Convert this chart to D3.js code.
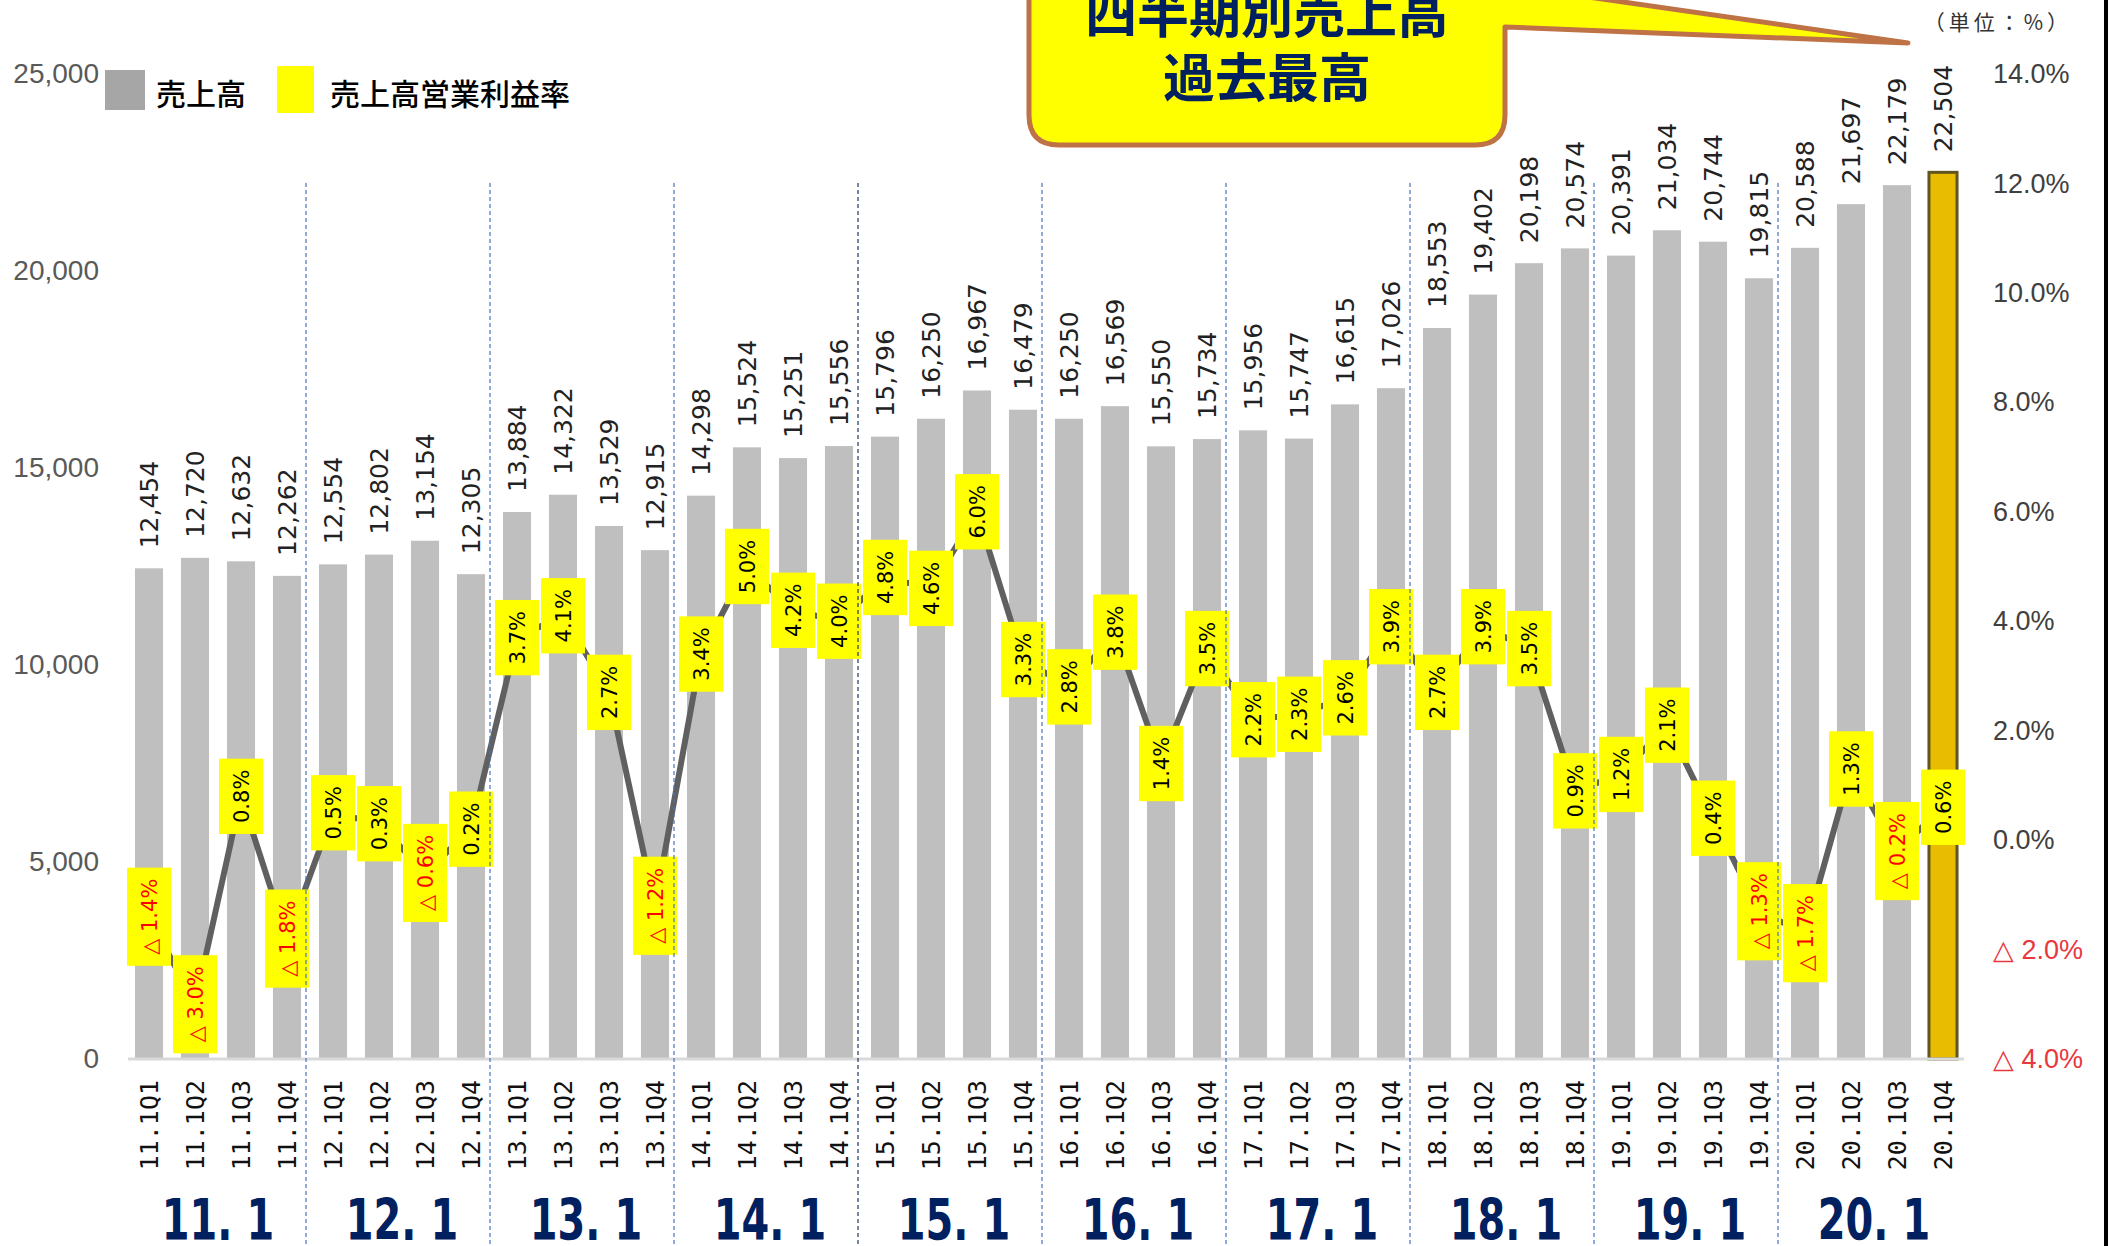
<!DOCTYPE html>
<html>
<head>
<meta charset="utf-8">
<script src="https://cdn.jsdelivr.net/npm/d3@7"></script>
<style>
  body { margin: 0; background: #fff; }
  svg { display: block; }
</style>
</head>
<body>
<svg id="chart"></svg>
<script>
// quarters, 2011 to 2020
const categories = [
  '11.1Q1', '11.1Q2', '11.1Q3', '11.1Q4', '12.1Q1', '12.1Q2', '12.1Q3', '12.1Q4',
  '13.1Q1', '13.1Q2', '13.1Q3', '13.1Q4', '14.1Q1', '14.1Q2', '14.1Q3', '14.1Q4',
  '15.1Q1', '15.1Q2', '15.1Q3', '15.1Q4', '16.1Q1', '16.1Q2', '16.1Q3', '16.1Q4',
  '17.1Q1', '17.1Q2', '17.1Q3', '17.1Q4', '18.1Q1', '18.1Q2', '18.1Q3', '18.1Q4',
  '19.1Q1', '19.1Q2', '19.1Q3', '19.1Q4', '20.1Q1', '20.1Q2', '20.1Q3', '20.1Q4',
];
// 売上高
const sales = [
  12454, 12720, 12632, 12262, 12554, 12802, 13154, 12305,
  13884, 14322, 13529, 12915, 14298, 15524, 15251, 15556,
  15796, 16250, 16967, 16479, 16250, 16569, 15550, 15734,
  15956, 15747, 16615, 17026, 18553, 19402, 20198, 20574,
  20391, 21034, 20744, 19815, 20588, 21697, 22179, 22504,
];
// 売上高営業利益率 (%)
const margins = [
  -1.4, -3.0, 0.8, -1.8, 0.5, 0.3, -0.6, 0.2,
  3.7, 4.1, 2.7, -1.2, 3.4, 5.0, 4.2, 4.0,
  4.8, 4.6, 6.0, 3.3, 2.8, 3.8, 1.4, 3.5,
  2.2, 2.3, 2.6, 3.9, 2.7, 3.9, 3.5, 0.9,
  1.2, 2.1, 0.4, -1.3, -1.7, 1.3, -0.2, 0.6,
];
const groupLabels = ['11. 1', '12. 1', '13. 1', '14. 1', '15. 1', '16. 1', '17. 1', '18. 1', '19. 1', '20. 1'];
const salesTicks = [0, 5000, 10000, 15000, 20000, 25000];
const marginTicks = [14, 12, 10, 8, 6, 4, 2, 0, -2, -4];
const legendItems = ['売上高', '売上高営業利益率'];
const calloutLines = ['四半期別売上高', '過去最高'];
const unitLabel = '（単位：%）';

const W = 2109;
const H = 1246;
const navy = '#002060';

const svg = d3.select('#chart')
  .attr('width', W)
  .attr('height', H);

const x = d3.scaleBand()
  .domain(categories)
  .range([126, 1966])
  .paddingInner(0.39)
  .paddingOuter(0.195);
const ySales = d3.scaleLinear().domain([0, 25000]).range([1059, 74]);
const yMargin = d3.scaleLinear().domain([-4, 14]).range([1059, 74]);
const cx = (d) => x(d) + x.bandwidth() / 2;
const lastIdx = categories.length - 1;

// bars
svg.append('g')
  .selectAll('rect')
  .data(categories)
  .join('rect')
  .attr('x', (d) => x(d))
  .attr('y', (d, i) => ySales(sales[i]))
  .attr('width', x.bandwidth())
  .attr('height', (d, i) => ySales(0) - ySales(sales[i]))
  .attr('fill', (d, i) => (i === lastIdx ? '#E8BC00' : '#BFBFBF'))
  .attr('stroke', (d, i) => (i === lastIdx ? '#625620' : 'none'))
  .attr('stroke-width', 3);

// baseline
svg.append('line')
  .attr('x1', x.range()[0] + 2)
  .attr('x2', x.range()[1] - 2)
  .attr('y1', ySales(0))
  .attr('y2', ySales(0))
  .attr('stroke', '#D9D9D9')
  .attr('stroke-width', 3);

// bar value labels
svg.append('g')
  .selectAll('text')
  .data(categories)
  .join('text')
  .attr('transform', (d, i) => `translate(${cx(d)},${ySales(sales[i]) - 20}) rotate(-90)`)
  .attr('dy', '0.36em')
  .style('font-family', '"DejaVu Sans", sans-serif')
  .style('font-size', '25px')
  .attr('fill', '#222')
  .text((d, i) => d3.format(',')(sales[i]));

// left axis
const leftAxis = svg.append('g')
  .attr('transform', 'translate(99,0)')
  .call(d3.axisLeft(ySales).tickValues(salesTicks).tickSize(0).tickPadding(0).tickFormat(d3.format(',')));
leftAxis.select('.domain').remove();
leftAxis.selectAll('text')
  .style('font-family', '"Liberation Sans", Arial, sans-serif')
  .style('font-size', '28px')
  .attr('fill', '#595959');

// right axis
const fmtPct = (v) => (v < 0 ? `△ ${Math.abs(v).toFixed(1)}%` : `${v.toFixed(1)}%`);
const rightAxis = svg.append('g')
  .attr('transform', 'translate(1993,0)')
  .call(d3.axisRight(yMargin).tickValues(marginTicks).tickSize(0).tickPadding(0).tickFormat(fmtPct));
rightAxis.select('.domain').remove();
rightAxis.selectAll('text')
  .style('font-family', '"Liberation Sans", Arial, sans-serif')
  .style('font-size', '27px')
  .attr('fill', (d) => (d < 0 ? '#E8383D' : '#404040'));

// unit label
svg.append('text')
  .attr('x', 2072)
  .attr('y', 30)
  .attr('text-anchor', 'end')
  .style('font-family', '"Noto Sans CJK JP", sans-serif')
  .style('font-size', '21px')
  .style('letter-spacing', '4px')
  .attr('fill', '#333')
  .text(unitLabel);

// category labels
svg.append('g')
  .selectAll('text')
  .data(categories)
  .join('text')
  .attr('transform', (d) => `translate(${cx(d)},1080) rotate(-90)`)
  .attr('dy', '0.36em')
  .attr('text-anchor', 'end')
  .style('font-family', '"DejaVu Sans Mono", monospace')
  .style('font-size', '25px')
  .attr('fill', '#111')
  .text((d) => d);

// year group labels (condensed look)
svg.append('g')
  .selectAll('text')
  .data(groupLabels)
  .join('text')
  .attr('transform', (d, g) => {
    const mid = (x(categories[g * 4]) + x(categories[g * 4 + 3]) + x.bandwidth()) / 2;
    return `translate(${mid},1240) scale(0.7,1)`;
  })
  .attr('text-anchor', 'middle')
  .style('font-family', '"DejaVu Sans", sans-serif')
  .style('font-weight', 'bold')
  .style('font-size', '57px')
  .attr('fill', navy)
  .text((d) => d);

// margin line
const line = d3.line()
  .x((d, i) => cx(categories[i]))
  .y((d) => yMargin(d));
svg.append('path')
  .datum(margins)
  .attr('d', line)
  .attr('fill', 'none')
  .attr('stroke', '#606060')
  .attr('stroke-width', 6);

// margin labels in yellow boxes
const labels = svg.append('g')
  .selectAll('g')
  .data(margins)
  .join('g')
  .attr('transform', (d, i) => `translate(${cx(categories[i])},${yMargin(d)})`);
labels.append('rect').attr('fill', '#FFFF00');
labels.append('text')
  .attr('transform', 'rotate(-90)')
  .attr('dy', '0.36em')
  .attr('text-anchor', 'middle')
  .style('font-family', '"DejaVu Sans", sans-serif')
  .style('font-size', '21px')
  .attr('fill', (d) => (d < 0 ? '#FF0000' : '#000'))
  .text(fmtPct);
labels.each(function sizeBox() {
  const g = d3.select(this);
  const len = g.select('text').node().getComputedTextLength() + 22;
  g.select('rect')
    .attr('x', -22)
    .attr('y', -len / 2)
    .attr('width', 44)
    .attr('height', len);
});

// dashed year separators
svg.append('g')
  .selectAll('line')
  .data(groupLabels.slice(1))
  .join('line')
  .attr('x1', (d, g) => x(categories[(g + 1) * 4]) - (x.step() - x.bandwidth()) / 2 - 4)
  .attr('x2', (d, g) => x(categories[(g + 1) * 4]) - (x.step() - x.bandwidth()) / 2 - 4)
  .attr('y1', 183)
  .attr('y2', H)
  .attr('stroke', (d, g) => (g === 3 ? '#1F3864' : '#4472C4'))
  .attr('stroke-width', 1.2)
  .attr('stroke-dasharray', '4,3');

// legend
const legend = svg.append('g');
legend.append('rect').attr('x', 105).attr('y', 70).attr('width', 40).attr('height', 40).attr('fill', '#A6A6A6');
legend.append('rect').attr('x', 277).attr('y', 66).attr('width', 37).attr('height', 47).attr('fill', '#FFFF00');
legend.selectAll('text')
  .data(legendItems)
  .join('text')
  .attr('x', (d, i) => (i === 0 ? 156 : 330))
  .attr('y', 105)
  .style('font-family', '"Noto Sans CJK JP", sans-serif')
  .style('font-size', '30px')
  .style('font-weight', 500)
  .attr('fill', '#000')
  .text((d) => d);

// callout
const callout = svg.append('g');
callout.append('path')
  .attr('d', 'M1029,-40 L1029,115 Q1029,145 1059,145 L1475,145 Q1505,145 1505,115 L1505,27 L1908,43 L1505,-15 L1505,-40 Z')
  .attr('fill', '#FFFF00')
  .attr('stroke', '#BF7245')
  .attr('stroke-width', 5)
  .attr('stroke-linejoin', 'round');
callout.selectAll('text')
  .data(calloutLines)
  .join('text')
  .attr('x', 1267)
  .attr('y', (d, i) => 33 + i * 64)
  .attr('text-anchor', 'middle')
  .style('font-family', '"Noto Sans CJK JP", sans-serif')
  .style('font-size', '52px')
  .style('font-weight', 'bold')
  .attr('fill', navy)
  .text((d) => d);

// right border
svg.append('line')
  .attr('x1', 2106).attr('x2', 2106)
  .attr('y1', 0).attr('y2', H)
  .attr('stroke', '#000')
  .attr('stroke-width', 4);
</script>
</body>
</html>
